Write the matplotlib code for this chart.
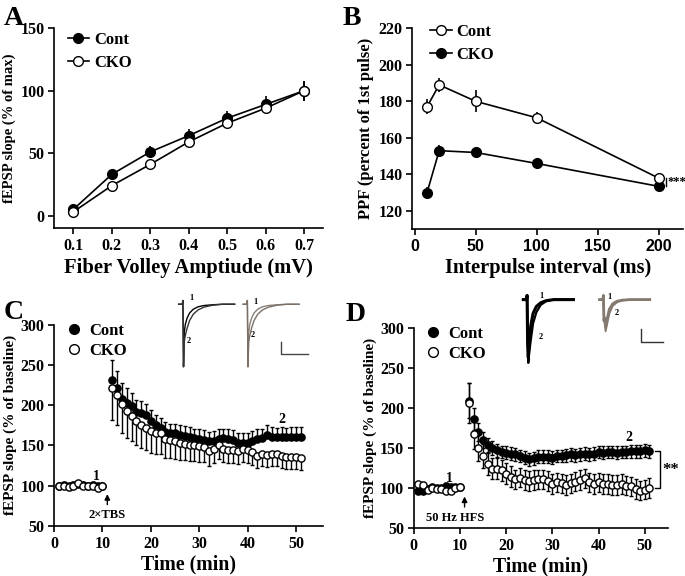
import numpy as np
import matplotlib.pyplot as plt
from matplotlib.lines import Line2D

plt.rcParams['font.family'] = ['Liberation Serif', 'DejaVu Serif']
plt.rcParams['font.weight'] = 'bold'
plt.rcParams['axes.labelweight'] = 'bold'
plt.rcParams['axes.linewidth'] = 1.2
plt.rcParams['xtick.major.width'] = 1.2
plt.rcParams['ytick.major.width'] = 1.2
plt.rcParams['xtick.major.size'] = 4
plt.rcParams['ytick.major.size'] = 4

# ---- Panel A: input/output ----
fv_amp = [0.1, 0.2, 0.3, 0.4, 0.5, 0.6, 0.7]
a_cont = [5, 33, 51, 64, 78, 89, 100]
a_cont_err = [3, 3, 5, 5, 6, 7, 8]
a_cko = [3, 24, 41, 59, 74, 86, 100]
a_cko_err = [3, 3, 3, 3, 3, 3, 8]

# ---- Panel B: paired pulse ----
ipi = [10, 20, 50, 100, 200]
b_cont = [177, 189, 180, 171, 138]
b_cont_err = [4, 4, 6, 3, 2]
b_cko = [130, 153, 152, 146, 133.5]
b_cko_err = [3, 3, 3, 3, 2]

# ---- Panel C: TBS LTP ----
c_time = [1, 2, 3, 4, 5, 6, 7, 8, 9, 10] + list(range(12, 52))
c_cont = [100, 101, 99, 101, 102, 101, 100, 101, 100, 100,
          231, 221, 208, 203, 199, 192, 191, 188, 181, 176,
          172, 167, 165, 165, 163, 162, 161, 159, 158, 157,
          155, 156, 158, 159, 158, 157, 153, 153, 153, 156,
          158, 159, 163, 161, 160, 161, 160, 161, 161, 161]
c_cont_err = [3] * 10 + [25, 22, 20, 18, 16, 15, 14, 13, 13, 12,
                         12, 12, 12, 12, 12, 12, 12, 12, 12, 12,
                         12, 12, 12, 12, 12, 12, 12, 12, 12, 12,
                         12, 12, 12, 12, 12, 12, 12, 12, 12, 12]
c_cko = [100, 100, 98, 100, 103, 100, 99, 99, 97, 99,
         222, 213, 202, 193, 187, 181, 176, 172, 168, 166,
         165, 158, 157, 155, 153, 152, 151, 150, 149, 148,
         143, 145, 150, 146, 144, 144, 143, 145, 144, 142,
         137, 140, 138, 140, 139, 137, 136, 136, 136, 135]
c_cko_err = [3] * 10 + [40, 38, 36, 34, 32, 30, 29, 28, 27, 26,
                        25, 24, 23, 22, 21, 20, 20, 19, 19, 18,
                        18, 17, 17, 17, 16, 16, 16, 16, 16, 16,
                        15, 15, 15, 15, 15, 15, 15, 15, 15, 15]

# ---- Panel D: HFS LTP ----
d_time = [1, 2, 3, 4, 5, 6, 7, 8, 9, 10] + list(range(12, 52))
d_cont = [97, 97, 99, 101, 100, 100, 103, 101, 101, 101,
          209, 186, 170, 160, 154, 150, 147, 145, 144, 143,
          142, 140, 138, 136, 137, 139, 139, 139, 138, 140,
          140, 141, 142, 141, 142, 143, 142, 143, 145, 144,
          145, 145, 144, 145, 145, 146, 146, 146, 147, 146]
d_cont_err = [3] * 10 + [22, 14, 11, 10, 9, 9, 8, 8, 8, 8,
                         8, 8, 8, 8, 8, 8, 8, 8, 8, 8,
                         8, 8, 8, 8, 8, 8, 8, 8, 8, 8,
                         8, 8, 8, 8, 8, 8, 8, 8, 8, 8]
d_cko = [105, 104, 98, 100, 99, 99, 97, 97, 100, 101,
         206, 167, 150, 140, 130, 124, 124, 122, 118, 114,
         111, 113, 110, 109, 110, 111, 111, 109, 105, 107,
         106, 104, 106, 108, 110, 112, 107, 105, 107, 105,
         105, 104, 104, 105, 103, 102, 99, 97, 98, 100]
d_cko_err = [3] * 10 + [25, 18, 16, 15, 14, 13, 13, 13, 13, 13,
                        12, 12, 12, 12, 12, 12, 12, 12, 12, 12,
                        12, 12, 12, 12, 12, 12, 12, 12, 12, 12,
                        12, 12, 12, 12, 12, 12, 12, 12, 12, 12]

# ---- inset traces (time, amplitude) ----
tr_t = [0, 3, 3.5, 4, 4.6, 5.5, 7, 9, 12, 16, 21, 28, 36, 46]
tr_c1 = [0, 0, 6, -100, -45, -32, -22, -14, -8, -4, -2, -0.8, 0, 0]
tr_c2 = [0, 0, 6, -100, -60, -50, -38, -26, -16, -9, -4.5, -1.5, 0, 0]
tr_d_black1 = [0, 0, 8, -80, -110, -75, -48, -26, -13, -6, -2, 0, 0, 0]
tr_d_black2 = [0, 0, 8, -80, -120, -100, -75, -45, -24, -10, -3, 0, 0, 0]
tr_d_gray1 = [0, 0, 8, -40, -35, -52, -36, -18, -8, -3, -1, 0, 0, 0]
tr_d_gray2 = [0, 0, 8, -40, -40, -60, -45, -26, -12, -5, -1.5, 0, 0, 0]

fig = plt.figure(figsize=(6.85, 5.76), dpi=100)


def style(ax):
    ax.spines['top'].set_visible(False)
    ax.spines['right'].set_visible(False)
    ax.tick_params(direction='out', labelsize=11.5, pad=3)
    for lab in ax.get_xticklabels() + ax.get_yticklabels():
        lab.set_fontweight('bold')


def handles(line_style):
    filled = Line2D([], [], color='black', marker='o', mfc='black', ms=7 if line_style else 6,
                    ls=line_style, lw=1.2)
    hollow = Line2D([], [], color='black', marker='o', mfc='white', ms=7 if line_style else 6,
                    ls=line_style, lw=1.2)
    return filled, hollow


# Panel A
axA = fig.add_axes([0.079, 0.604, 0.393, 0.347])
axA.errorbar(fv_amp, a_cont, yerr=a_cont_err, fmt='-o', color='black', mfc='black',
             ms=7, lw=1.2, capsize=0, zorder=2)
axA.errorbar(fv_amp, a_cko, yerr=a_cko_err, fmt='-o', color='black', mfc='white',
             ms=7, lw=1.2, capsize=0, zorder=3)
axA.set_xlim(0.05, 0.75)
axA.set_ylim(-10, 150)
axA.set_xticks(fv_amp)
axA.set_yticks([0, 50, 100, 150])
axA.set_xlabel('Fiber Volley Amptiude (mV)', fontsize=14.8, labelpad=3)
axA.set_ylabel('fEPSP slope (% of max)', fontsize=10.5, labelpad=3)
style(axA)
hf, ho = handles('-')
axA.legend([hf, ho], ['Cont', 'CKO'], loc='upper left', frameon=False, fontsize=12,
           handlelength=1.3, handletextpad=0.3, labelspacing=0.4, borderpad=0,
           borderaxespad=0, bbox_to_anchor=(0.05, 0.98))
fig.text(0.005, 0.99, 'A', fontsize=20, fontweight='bold', va='top')

# Panel B
axB = fig.add_axes([0.602, 0.602, 0.395, 0.349])
axB.errorbar(ipi, b_cont, yerr=b_cont_err, fmt='-o', color='black', mfc='white',
             ms=7, lw=1.2, capsize=0, zorder=3)
axB.errorbar(ipi, b_cko, yerr=b_cko_err, fmt='-o', color='black', mfc='black',
             ms=7, lw=1.2, capsize=0, zorder=2)
axB.set_xlim(-2, 220)
axB.set_ylim(110, 220)
axB.set_xticks([0, 50, 100, 150, 200])
axB.set_yticks([120, 140, 160, 180, 200, 220])
axB.set_xlabel('Interpulse interval (ms)', fontsize=14.7, labelpad=3)
axB.set_ylabel('PPF (percent of 1st pulse)', fontsize=12, labelpad=3)
style(axB)
for lab in axB.get_xticklabels():
    lab.set_family('Liberation Sans')
axB.plot([206, 206], [b_cko[-1], b_cont[-1]], color='black', lw=1)
axB.text(207, (b_cko[-1] + b_cont[-1]) / 2, '***', fontsize=9, va='center')
hf, ho = handles('-')
axB.legend([ho, hf], ['Cont', 'CKO'], loc='upper left', frameon=False, fontsize=12,
           handlelength=1.3, handletextpad=0.3, labelspacing=0.4, borderpad=0,
           borderaxespad=0, bbox_to_anchor=(0.065, 1.02))
fig.text(0.50, 0.99, 'B', fontsize=20, fontweight='bold', va='top')

# Panel C
axC = fig.add_axes([0.079, 0.087, 0.392, 0.349])
axC.errorbar(c_time, c_cont, yerr=[[0] * len(c_cont_err), c_cont_err], fmt='o',
             color='black', mfc='black', ms=5.2, elinewidth=1, capsize=1.2, zorder=2)
axC.errorbar(c_time, c_cko, yerr=[c_cko_err, [0] * len(c_cko_err)], fmt='o',
             color='black', mfc='white', ms=5.2, elinewidth=1, capsize=1.2, zorder=3)
axC.set_xlim(0, 55.5)
axC.set_ylim(50, 300)
axC.set_xticks([0, 10, 20, 30, 40, 50])
axC.set_yticks([50, 100, 150, 200, 250, 300])
axC.set_xlabel('Time (min)', fontsize=14.2, labelpad=2)
axC.set_ylabel('fEPSP slope (% of baseline)', fontsize=11, labelpad=2)
style(axC)
axC.annotate('', xy=(11, 93), xytext=(11, 73),
             arrowprops=dict(arrowstyle='-|>', color='black', lw=1, mutation_scale=8))
axC.text(11, 63, '2×TBS', fontsize=9, ha='center', va='center')
axC.text(8.8, 111, '1', fontsize=10, ha='center', va='center')
axC.text(47, 182, '2', fontsize=10, ha='center', va='center')
hf, ho = handles('none')
axC.legend([hf, ho], ['Cont', 'CKO'], loc='upper left', frameon=False, fontsize=12,
           handlelength=0.8, handletextpad=0.5, labelspacing=0.25, borderpad=0,
           borderaxespad=0, bbox_to_anchor=(0.05, 1.01))
fig.text(0.005, 0.48, 'C', fontsize=20, fontweight='bold', va='top')

insC = fig.add_axes([175 / 685, 1 - 368 / 576, 135 / 685, 75 / 576])
insC.plot(tr_t, tr_c1, color='black', lw=1)
insC.plot(tr_t, tr_c2, color='#333333', lw=1)
insC.plot([t + 53 for t in tr_t], tr_c1, color='#8a8078', lw=1)
insC.plot([t + 53 for t in tr_t], tr_c2, color='#7a7068', lw=1)
insC.plot([84, 84, 106], [-60, -80, -80], color='#444444', lw=1)
insC.text(9, 6, '1', fontsize=6)
insC.text(7, -62, '2', fontsize=6)
insC.text(61, 0, '1', fontsize=6)
insC.text(59, -52, '2', fontsize=6)
insC.set_xlim(-3, 108)
insC.set_ylim(-102, 18)
insC.axis('off')

# Panel D
axD = fig.add_axes([0.604, 0.083, 0.371, 0.348])
axD.errorbar(d_time, d_cont, yerr=d_cont_err, fmt='o', color='black', mfc='black',
             ms=5.2, elinewidth=1, capsize=1.2, zorder=2)
axD.errorbar(d_time, d_cko, yerr=d_cko_err, fmt='o', color='black', mfc='white',
             ms=5.2, elinewidth=1, capsize=1.2, zorder=3)
axD.set_xlim(0, 55)
axD.set_ylim(50, 300)
axD.set_xticks([0, 10, 20, 30, 40, 50])
axD.set_yticks([50, 100, 150, 200, 250, 300])
axD.set_xlabel('Time (min)', fontsize=14.2, labelpad=2)
axD.set_ylabel('fEPSP slope (% of baseline)', fontsize=11, labelpad=2)
style(axD)
axD.annotate('', xy=(11, 93), xytext=(11, 73),
             arrowprops=dict(arrowstyle='-|>', color='black', lw=1, mutation_scale=8))
axD.text(9, 63, '50 Hz HFS', fontsize=9, ha='center', va='center')
axD.text(7.8, 112, '1', fontsize=10, ha='center', va='center')
axD.text(46.5, 163, '2', fontsize=10, ha='center', va='center')
axD.plot([52.3, 53.2, 53.2, 52.3], [d_cont[-1], d_cont[-1], d_cko[-1], d_cko[-1]],
         color='black', lw=1, clip_on=False)
axD.text(53.8, (d_cont[-1] + d_cko[-1]) / 2, '**', fontsize=12, va='center', clip_on=False)
hf, ho = handles('none')
axD.legend([hf, ho], ['Cont', 'CKO'], loc='upper left', frameon=False, fontsize=12,
           handlelength=0.8, handletextpad=0.5, labelspacing=0.25, borderpad=0,
           borderaxespad=0, bbox_to_anchor=(0.05, 1.01))
fig.text(0.505, 0.475, 'D', fontsize=20, fontweight='bold', va='top')

insD = fig.add_axes([520 / 685, 1 - 364 / 576, 145 / 685, 76 / 576])
insD.plot(tr_t, tr_d_black1, color='black', lw=2.2)
insD.plot(tr_t, tr_d_black2, color='black', lw=1.6)
insD.plot([t + 70 for t in tr_t], tr_d_gray1, color='#857a70', lw=2)
insD.plot([t + 70 for t in tr_t], tr_d_gray2, color='#857a70', lw=1.4)
insD.plot([108, 108, 128], [-55, -80, -80], color='#333333', lw=1)
insD.text(15, 4, '1', fontsize=6)
insD.text(14, -75, '2', fontsize=6)
insD.text(77, 2, '1', fontsize=6)
insD.text(84, -30, '2', fontsize=6)
insD.set_xlim(-3, 130)
insD.set_ylim(-122, 22)
insD.axis('off')

fig.savefig('out.png', dpi=100)
